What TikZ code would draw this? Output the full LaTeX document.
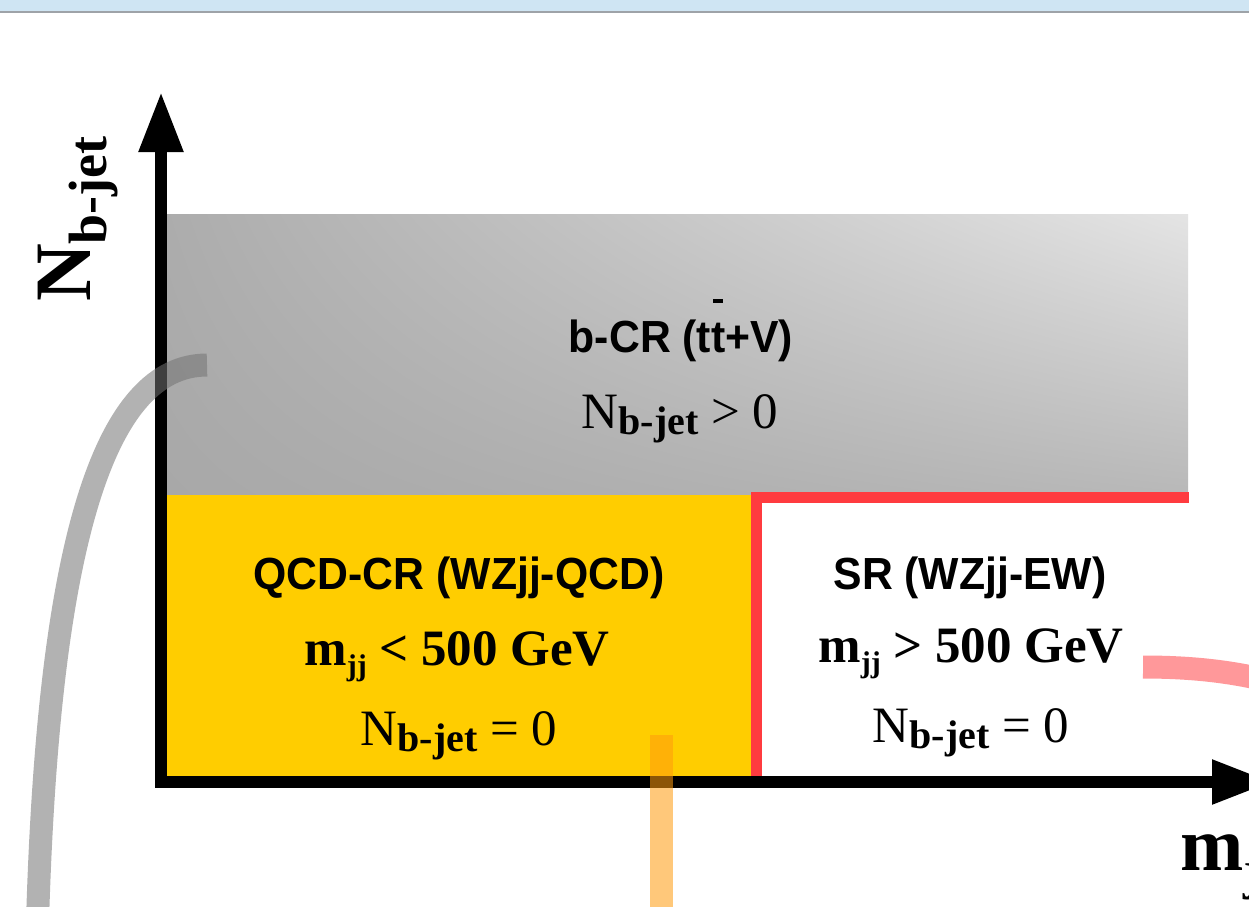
\documentclass[tikz,border=0pt]{standalone}
\usepackage{fontspec}
\setmainfont{Liberation Serif}
\newfontfamily\hdfont[FakeStretch=0.95]{Liberation Sans}
\usetikzlibrary{arrows.meta,shadings}

\definecolor{topbar}{HTML}{CFE5F3}
\definecolor{topline}{HTML}{9EA3A8}
\definecolor{bgUL}{HTML}{ACACAC}
\definecolor{bgLL}{HTML}{A8A8A8}
\definecolor{bgUR}{HTML}{E4E4E4}
\definecolor{bgLR}{HTML}{B8B8B8}
\definecolor{qcdyellow}{HTML}{FFCD00}
\definecolor{srred}{HTML}{FF3B3F}
\definecolor{annogray}{HTML}{737373}
\definecolor{annoorange}{HTML}{FF9B0D}

% N_{b-jet} and m_{jj} as set in the region labels
\newcommand\nbj{N\raisebox{-6pt}{\fontsize{40}{48}\selectfont\bfseries b-jet}}
\newcommand\mjj{m\raisebox{-10pt}{\fontsize{30}{36}\selectfont jj}}
\newcommand\tbar{\rlap{\raisebox{1.1em}{\kern0.048em\rule{0.22em}{0.075em}}}t}

\begin{document}
\begin{tikzpicture}[x=1pt,y=-1pt,
  hd/.style={font=\hdfont\bfseries\fontsize{45}{54}\selectfont, inner sep=0pt, anchor=base},
  ser/.style={font=\fontsize{51}{60}\selectfont, inner sep=0pt, anchor=base},
  axis/.style={line width=11.5pt, line join=miter,
    {Triangle[length=60pt,width=42pt]}-{Triangle[length=60pt,width=42pt]}},
  annot/.style={line width=23pt, line cap=butt},
]
\useasboundingbox (0,0) rectangle (1249,906);
\fill[white] (0,0) rectangle (1249,906);

% window strip along the top
\fill[topbar] (0,0) rectangle (1249,11);
\draw[topline, line width=1.6pt] (0,12) -- (1249,12);

% regions
\shade[upper left=bgUL, upper right=bgUR, lower left=bgLL, lower right=bgLR]
  (161,214) rectangle (1188,495);
\fill[qcdyellow] (161,495) rectangle (756,782);
\draw[srred, line width=11pt, line cap=butt, line join=miter]
  (756,782) -- (756,497.5) -- (1189,497.5);

% axes
\coordinate (origin) at (161,782);
\coordinate (ytip) at (161,92);
\coordinate (xtip) at (1272,782);
\draw[axis] (ytip) -- (origin) -- (xtip);

\node[rotate=90, anchor=base west, inner sep=0pt,
      font=\bfseries\fontsize{80}{90}\selectfont] (ylab) at (90,302)
  {N\raisebox{-16pt}{\fontsize{54}{60}\selectfont b-jet}};
\node[anchor=base west, inner sep=0pt,
      font=\bfseries\fontsize{76}{90}\selectfont] (xlab) at (1180,870)
  {m\raisebox{-18pt}{\fontsize{54}{60}\selectfont jj}};

% region labels
\node[hd] (bcrT) at (681,352) {b-CR (t\tbar+V)};
\node[ser] (bcrN) at (680,428) {\nbj{} > 0};

\node[hd] (qcdT) at (459,589) {QCD-CR (WZjj-QCD)};
\node[ser, font=\bfseries\fontsize{51}{60}\selectfont] (qcdM) at (457,665) {\mjj{} < 500 GeV};
\node[ser] (qcdN) at (459,745) {\nbj{} = 0};

\node[hd] (srT) at (970,589) {SR (WZjj-EW)};
\node[ser, font=\bfseries\fontsize{51}{60}\selectfont] (srM) at (971,662) {\mjj{} > 500 GeV};
\node[ser] (srN) at (971,742) {\nbj{} = 0};

% translucent pointer strokes
\coordinate (gS) at (207,365);
\coordinate (gE) at (37,930);
\draw[annot, draw=annogray, draw opacity=0.55]
  (gS) .. controls (105,365) and (50,540) .. (38,906) -- (gE);
\coordinate (oS) at (661,735);
\coordinate (oE) at (661,930);
\draw[annot, draw=annoorange, draw opacity=0.55] (oS) -- (oE);
\coordinate (pS) at (1143,667);
\coordinate (pE) at (1285,685);
\draw[annot, draw=srred, draw opacity=0.52]
  (pS) .. controls (1190,667) and (1235,671) .. (pE);
\end{tikzpicture}
\end{document}
